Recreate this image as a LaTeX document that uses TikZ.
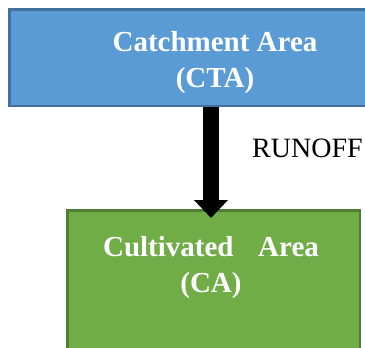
\documentclass[tikz,border=0pt]{standalone}
\usepackage{fontspec}
\setmainfont{Liberation Serif}
\usetikzlibrary{arrows.meta,positioning}
\definecolor{ctafill}{HTML}{5B9BD5}
\definecolor{ctaline}{HTML}{41719C}
\definecolor{cafill}{HTML}{70AD47}
\definecolor{caline}{HTML}{507E32}
\tikzset{
  areabox/.style={draw, rectangle, line width=2.5pt, inner sep=0pt},
  areatext/.style={text=white, font=\fontsize{29}{36}\selectfont\bfseries,
    align=center, inner sep=0pt},
  flowarrow/.style={line width=16pt, -{Triangle[width=33pt,length=18pt]}},
}
\begin{document}
\begin{tikzpicture}[x=1pt,y=-1pt]
\useasboundingbox (0,0) rectangle (365,348);
% catchment area, running out past the right margin
\node[areabox, fill=ctafill, draw=ctaline,
  minimum width=403.5pt, minimum height=96.5pt] (cta) at (211,57.5) {};
\node[areatext] (ctatext) at (215,62.5) {Catchment Area\\(CTA)};
% cultivated area, running out past the bottom margin
\node[areabox, fill=cafill, draw=caline,
  minimum width=292.5pt, minimum height=150pt] (ca) at (213.5,285.25) {};
\node[areatext] (catext) at (211,267.5) {Cultivated\hspace{0.85em}Area\\(CA)};
% runoff
\draw[flowarrow, shorten >=-9pt] (cta.south) -- (cta.south |- ca.north);
\node[font=\fontsize{28}{34}\selectfont, anchor=west, inner sep=0pt]
  (runoff) at (252,148.5) {RUNOFF};
\end{tikzpicture}
\end{document}
